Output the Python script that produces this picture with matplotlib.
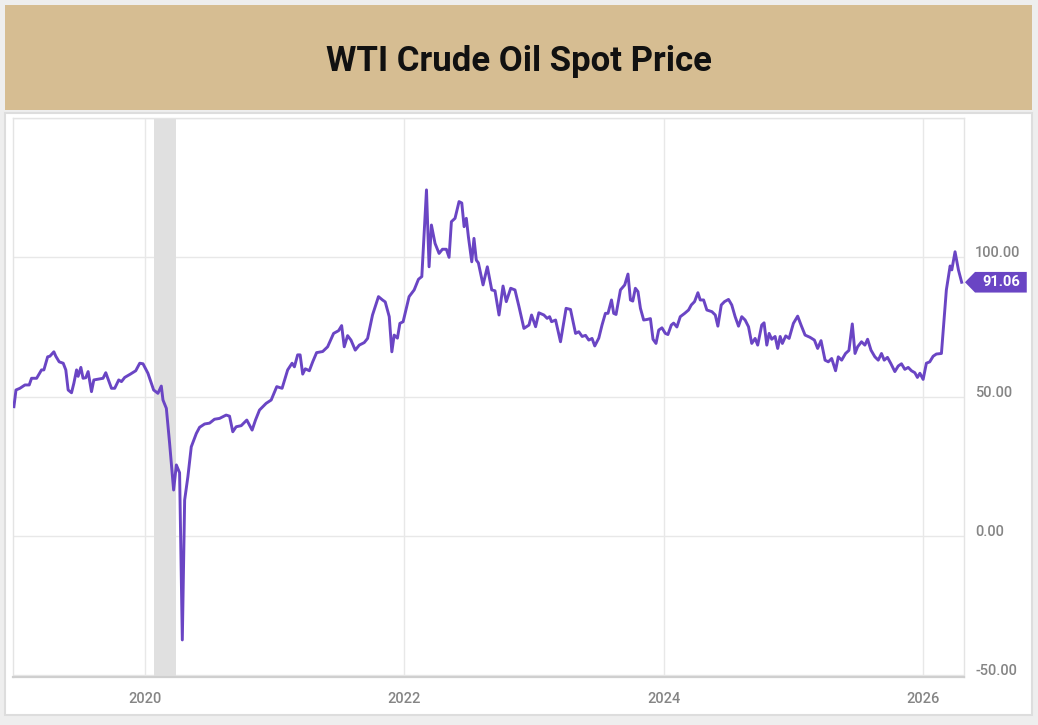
import numpy as np
import matplotlib.pyplot as plt
from matplotlib.patches import Rectangle, Polygon
from matplotlib.transforms import blended_transform_factory

# -------------------------
# WTI spot price (decimal year, USD/bbl)
# -------------------------
years = [
    2018.992, 2019.008, 2019.038, 2019.077, 2019.110, 2019.128, 2019.167, 2019.205,
    2019.223, 2019.252, 2019.269, 2019.300, 2019.315, 2019.341, 2019.372, 2019.392,
    2019.410, 2019.436, 2019.454, 2019.475, 2019.487, 2019.508, 2019.525, 2019.546,
    2019.564, 2019.590, 2019.608, 2019.654, 2019.679, 2019.700, 2019.744, 2019.769,
    2019.800, 2019.821, 2019.846, 2019.890, 2019.931, 2019.962, 2019.987, 2020.025,
    2020.069, 2020.102, 2020.128, 2020.141, 2020.167, 2020.192, 2020.223, 2020.244,
    2020.269, 2020.290, 2020.308, 2020.333, 2020.359, 2020.398, 2020.423, 2020.462,
    2020.500, 2020.538, 2020.577, 2020.628, 2020.654, 2020.679, 2020.705, 2020.744,
    2020.787, 2020.828, 2020.854, 2020.885, 2020.936, 2020.975, 2021.018, 2021.059,
    2021.102, 2021.136, 2021.154, 2021.179, 2021.198, 2021.218, 2021.238, 2021.269,
    2021.295, 2021.325, 2021.372, 2021.410, 2021.456, 2021.495, 2021.518, 2021.538,
    2021.564, 2021.590, 2021.623, 2021.654, 2021.692, 2021.718, 2021.756, 2021.802,
    2021.833, 2021.854, 2021.885, 2021.905, 2021.923, 2021.948, 2021.967, 2021.992,
    2022.038, 2022.077, 2022.110, 2022.136, 2022.172, 2022.192, 2022.210, 2022.238,
    2022.269, 2022.295, 2022.325, 2022.346, 2022.364, 2022.392, 2022.423, 2022.444,
    2022.462, 2022.479, 2022.495, 2022.521, 2022.538, 2022.556, 2022.572, 2022.608,
    2022.641, 2022.675, 2022.700, 2022.731, 2022.762, 2022.787, 2022.821, 2022.854,
    2022.885, 2022.923, 2022.962, 2022.982, 2023.013, 2023.038, 2023.077, 2023.102,
    2023.121, 2023.136, 2023.167, 2023.205, 2023.248, 2023.282, 2023.321, 2023.346,
    2023.372, 2023.398, 2023.423, 2023.448, 2023.469, 2023.500, 2023.525, 2023.551,
    2023.571, 2023.598, 2023.615, 2023.633, 2023.667, 2023.700, 2023.725, 2023.744,
    2023.762, 2023.782, 2023.802, 2023.821, 2023.846, 2023.872, 2023.898, 2023.918,
    2023.941, 2023.962, 2023.987, 2024.013, 2024.033, 2024.059, 2024.077, 2024.102,
    2024.128, 2024.162, 2024.192, 2024.213, 2024.238, 2024.264, 2024.282, 2024.308,
    2024.333, 2024.372, 2024.398, 2024.418, 2024.444, 2024.469, 2024.500, 2024.525,
    2024.551, 2024.577, 2024.602, 2024.628, 2024.654, 2024.679, 2024.705, 2024.725,
    2024.756, 2024.774, 2024.795, 2024.813, 2024.833, 2024.859, 2024.879, 2024.898,
    2024.915, 2024.941, 2024.967, 2025.000, 2025.033, 2025.059, 2025.090, 2025.128,
    2025.162, 2025.187, 2025.213, 2025.244, 2025.269, 2025.295, 2025.325, 2025.346,
    2025.372, 2025.402, 2025.428, 2025.454, 2025.475, 2025.495, 2025.525, 2025.551,
    2025.572, 2025.598, 2025.628, 2025.654, 2025.679, 2025.700, 2025.725, 2025.751,
    2025.782, 2025.808, 2025.833, 2025.859, 2025.885, 2025.910, 2025.936, 2025.956,
    2025.975, 2026.000, 2026.025, 2026.051, 2026.077, 2026.102, 2026.141, 2026.179,
    2026.208, 2026.221, 2026.246, 2026.272, 2026.297,
]
prices = [
    46.4, 52.4, 53.0, 54.2, 54.2, 56.6, 56.6, 59.6,
    59.6, 64.3, 64.5, 66.1, 64.5, 62.5, 62.0, 59.6,
    52.4, 51.4, 54.8, 59.6, 57.3, 60.5, 56.6, 56.8,
    59.0, 51.8, 56.0, 56.4, 56.6, 58.6, 53.0, 53.0,
    56.0, 55.4, 56.9, 58.1, 59.3, 62.0, 61.8, 58.4,
    52.4, 51.2, 53.8, 48.8, 45.8, 33.3, 16.5, 25.5,
    22.7, -37.3, 12.9, 21.3, 32.0, 36.8, 39.0, 40.2,
    40.5, 41.9, 42.2, 43.4, 43.0, 37.4, 39.2, 39.6,
    41.6, 38.0, 41.6, 45.2, 47.6, 48.8, 53.6, 53.0,
    59.6, 62.0, 60.7, 65.0, 65.0, 58.1, 60.0, 59.3,
    62.5, 65.8, 66.2, 67.9, 72.7, 73.7, 75.5, 67.9,
    71.9, 70.3, 66.7, 68.5, 69.4, 70.9, 79.3, 85.9,
    84.7, 84.0, 78.7, 66.1, 72.1, 71.0, 76.3, 76.9,
    85.9, 88.3, 92.1, 93.1, 124.2, 96.6, 111.6, 105.0,
    101.4, 102.9, 102.9, 100.0, 112.8, 114.0, 120.0, 119.5,
    111.0, 114.0, 107.4, 98.4, 106.8, 99.0, 98.0, 90.1,
    96.6, 88.3, 88.0, 79.3, 89.7, 84.1, 88.9, 88.3,
    82.3, 74.5, 75.7, 79.3, 75.1, 80.1, 79.3, 78.1,
    78.7, 76.9, 77.5, 69.7, 81.7, 81.3, 72.7, 73.3,
    71.6, 72.0, 70.3, 70.9, 68.2, 71.0, 75.7, 79.9,
    79.9, 84.7, 79.9, 79.5, 88.3, 90.1, 94.0, 84.7,
    84.3, 88.9, 87.7, 81.7, 77.5, 77.7, 78.0, 70.6,
    69.1, 73.9, 74.7, 72.7, 72.3, 75.7, 76.4, 75.0,
    78.7, 79.9, 81.1, 82.9, 84.1, 87.3, 84.7, 84.7,
    81.1, 80.5, 79.3, 75.3, 82.9, 84.1, 84.9, 82.9,
    78.7, 75.3, 78.7, 77.5, 75.1, 69.1, 70.9, 68.5,
    75.7, 76.5, 68.5, 72.7, 70.6, 71.6, 67.3, 71.6,
    69.1, 71.8, 70.9, 76.3, 78.9, 75.7, 72.1, 71.3,
    70.3, 67.3, 70.1, 63.1, 62.5, 63.7, 59.3, 64.3,
    63.1, 65.5, 66.6, 76.1, 65.5, 67.9, 69.7, 68.5,
    70.6, 66.7, 64.3, 63.1, 65.5, 63.1, 64.1, 61.9,
    59.0, 61.0, 61.8, 59.8, 60.5, 59.3, 58.6, 56.9,
    58.4, 56.2, 62.0, 62.5, 64.5, 65.3, 65.5, 88.3,
    96.9, 95.5, 102.0, 95.5, 91.06,
]

recession = (2020.07, 2020.24)
year_ticks = [2020, 2022, 2024, 2026]
price_ticks = [-50, 0, 50, 100]
last_label = "91.06"
title = "WTI Crude Oil Spot Price"

LINE = "#6a45c4"
GRID = "#e8e8e8"
TICK = "#858585"

plt.rcParams['font.family'] = ['Roboto', 'DejaVu Sans']

fig = plt.figure(figsize=(10.38, 7.25), dpi=100)
fig.patch.set_facecolor("#eeeeee")

W, H = 1038.0, 725.0
# title band and white chart box (pixel coords -> figure fraction)
fig.patches.append(Rectangle((5 / W, 1 - 110 / H), 1027 / W, 105 / H,
                             transform=fig.transFigure, facecolor="#d6bd92",
                             edgecolor="none", zorder=-1))
fig.patches.append(Rectangle((5 / W, 1 - 715 / H), 1027 / W, 602 / H,
                             transform=fig.transFigure, facecolor="white",
                             edgecolor="#dddddd", linewidth=1.5, zorder=-1))
fig.text(0.5, 1 - 61 / H, title, ha="center", va="center",
         fontsize=25, fontweight="bold", color="#111111")

ax = fig.add_axes([13 / W, 1 - 677 / H, 951 / W, 559 / H])
ax.set_zorder(2)
ax.set_facecolor("white")

ax.axvspan(recession[0], recession[1], color="#e0e0e0", lw=0, zorder=1)
ax.plot(years, prices, color=LINE, lw=2.1, zorder=3, solid_joinstyle="round")

ax.set_xlim(2018.985, 2026.315)
ax.set_ylim(-50.6, 150)

ax.set_xticks(year_ticks)
ax.set_xticklabels([str(y) for y in year_ticks])
ax.set_yticks(price_ticks + [150])
ax.set_yticklabels([f"{v:.2f}" for v in price_ticks] + [""])
ax.yaxis.tick_right()
for tl in ax.get_yticklabels() + ax.get_xticklabels():
    tl.set_fontweight("medium")
for tl in ax.get_yticklabels():
    tl.set_verticalalignment("baseline")
ax.tick_params(axis="both", length=0, colors=TICK, labelsize=10.5)
ax.tick_params(axis="y", pad=8)
ax.tick_params(axis="x", pad=11)

ax.grid(True, color=GRID, lw=1, zorder=0)
ax.set_axisbelow(True)
for side in ["left", "right", "top"]:
    ax.spines[side].set_color("#e4e4e4")
    ax.spines[side].set_linewidth(1)
ax.spines["bottom"].set_color("#cfcfcf")
ax.spines["bottom"].set_linewidth(1.6)

# last value flag on the right axis
tr = blended_transform_factory(ax.transAxes, ax.transData)
v = prices[-1]
flag = Polygon([(1.001, v), (1.0116, v + 3.7), (1.066, v + 3.7),
                (1.066, v - 3.7), (1.0116, v - 3.7)], closed=True,
               transform=tr, facecolor=LINE, edgecolor="none", clip_on=False, zorder=5)
ax.add_patch(flag)
ax.text(1.039, v, last_label, transform=tr, ha="center", va="center",
        color="white", fontsize=10.5, fontweight="bold", clip_on=False, zorder=6)

fig.savefig("out.png", dpi=100, facecolor=fig.get_facecolor())
